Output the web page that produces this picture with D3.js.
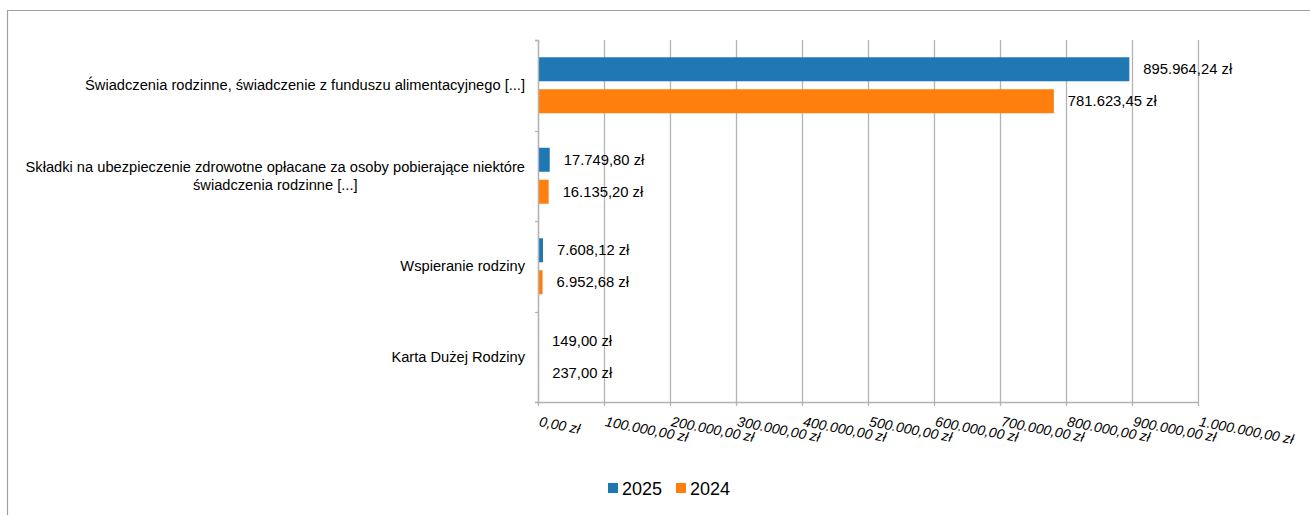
<!DOCTYPE html>
<html><head><meta charset="utf-8">
<script src="https://cdn.jsdelivr.net/npm/d3@7"></script>
<style>
html,body{margin:0;padding:0;background:#fff;}
svg{display:block;font-family:"Liberation Sans",Arial,sans-serif;}
</style></head>
<body><svg id="c" width="1310" height="515"></svg>
<script>
const categories = [
  "Świadczenia rodzinne, świadczenie z funduszu alimentacyjnego [...]",
  "Składki na ubezpieczenie zdrowotne opłacane za osoby pobierające niektóre\nświadczenia rodzinne [...]",
  "Wspieranie rodziny",
  "Karta Dużej Rodziny"
];
const seriesNames = ["2025", "2024"];
const values2025 = [895964.24, 17749.80, 7608.12, 149.00];
const values2024 = [781623.45, 16135.20, 6952.68, 237.00];
const xTicks = [0,100000,200000,300000,400000,500000,600000,700000,800000,900000,1000000];
const colors = ["#1f77b4", "#ff7f0e"];

const series = [values2025, values2024];
const loc = d3.formatLocale({decimal:",", thousands:".", grouping:[3], currency:["", " zł"]});
const fmt = v => loc.format(",.2f")(v) + " zł";

const svg = d3.select("#c");
const gridColor = "#b3b3b3";

// frame
svg.append("path").attr("d","M7.5,515 V10.5 H1310").attr("fill","none").attr("stroke","#a0a0a0").attr("stroke-width",1.2);

const x = d3.scaleLinear().domain([0,1000000]).range([538,1198]);
const y = d3.scaleBand().domain(categories).range([40,402]);
const yi = d3.scaleBand().domain(seriesNames).range([0,y.bandwidth()]).paddingInner(0.25).paddingOuter(0.54);

// grid
svg.append("g").selectAll("line").data(xTicks).join("line")
  .attr("x1",d=>Math.round(x(d))+0.5).attr("x2",d=>Math.round(x(d))+0.5)
  .attr("y1",40).attr("y2",402).attr("stroke",gridColor).attr("stroke-width",1.3);

// bars
categories.forEach((c,i)=>{
  series.forEach((s,j)=>{
    svg.append("rect")
      .attr("x",x(0)).attr("y",y(c)+yi(seriesNames[j]))
      .attr("width",Math.max(0,x(s[i])-x(0))).attr("height",yi.bandwidth())
      .attr("fill",colors[j]);
    svg.append("text")
      .attr("x",x(s[i])+14).attr("y",y(c)+yi(seriesNames[j])+yi.bandwidth()/2)
      .attr("dy","0.35em").attr("font-size",14.8).attr("fill","#000")
      .text(fmt(s[i]));
  });
});

// bottom axis
const xAxis = d3.axisBottom(x).tickValues(xTicks).tickSize(4).tickFormat(fmt);
const gx = svg.append("g").attr("transform","translate(0,402)").call(xAxis);
gx.select(".domain").attr("stroke",gridColor).attr("stroke-width",1.3).attr("d","M535,0.5H"+x(1000000));
gx.selectAll(".tick line").attr("stroke",gridColor).attr("stroke-width",1.3);
gx.selectAll(".tick text")
  .attr("font-size",14).attr("font-style","italic").attr("fill","#000")
  .attr("text-anchor","start").attr("y",0).attr("dy",0)
  .attr("transform","translate(0,24) rotate(11)");

// left axis
const yAxis = d3.axisLeft(y).tickSize(0).tickFormat("");
const gy = svg.append("g").attr("transform","translate(538,0)").call(yAxis);
gy.select(".domain").attr("stroke",gridColor).attr("stroke-width",1.3).attr("d","M-3,40.5H0.5V402");
gy.selectAll(".tick").remove();
svg.append("g").selectAll("line").data(categories.concat(["end"])).join("line")
  .attr("x1",535).attr("x2",538)
  .attr("y1",(d,i)=>Math.round(40+i*y.step())+0.5).attr("y2",(d,i)=>Math.round(40+i*y.step())+0.5)
  .attr("stroke",gridColor).attr("stroke-width",1.3);

// category labels
categories.forEach(c=>{
  const lines = c.split("\n");
  const t = svg.append("text").attr("font-size",14.67).attr("fill","#000");
  const lh = 18;
  const cy = y(c)+y.bandwidth()/2;
  const spans = lines.map((l,k)=>t.append("tspan").attr("y",cy+(k-(lines.length-1)/2)*lh).attr("dy","0.35em").text(l));
  const widths = spans.map(s=>s.node().getComputedTextLength());
  const maxW = d3.max(widths);
  const cx = 525 - maxW/2;
  spans.forEach(s=>s.attr("x",cx).attr("text-anchor","middle"));
});

// legend
const lg = svg.append("g");
const lx = [608, 676];
seriesNames.forEach((n,j)=>{
  lg.append("rect").attr("x",lx[j]).attr("y",483).attr("width",10).attr("height",10).attr("fill",colors[j]);
  lg.append("text").attr("x",lx[j]+14).attr("y",495).attr("font-size",18).attr("fill","#000").text(n);
});
</script></body></html>
